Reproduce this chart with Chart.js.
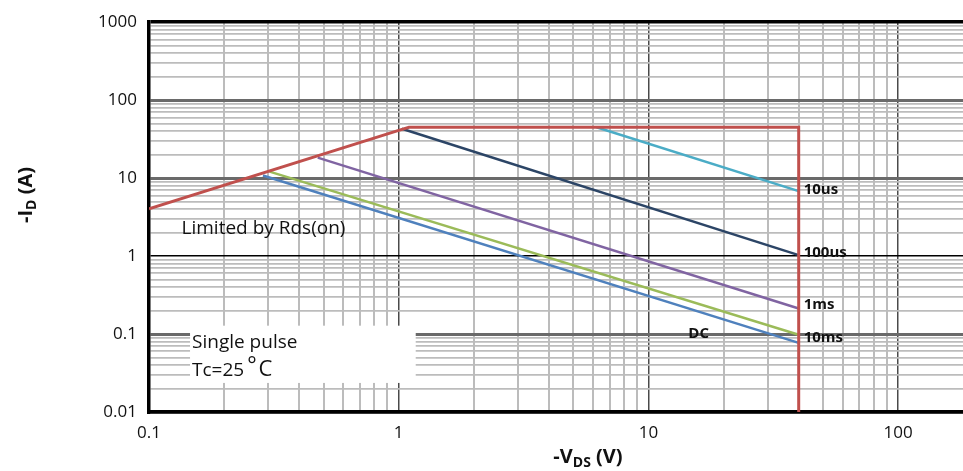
<!DOCTYPE html>
<html>
<head>
<meta charset="utf-8">
<script src="https://cdn.jsdelivr.net/npm/chart.js@4.4.1/dist/chart.umd.min.js"></script>
<style>
  html, body { margin: 0; padding: 0; background: #fff; }
  #wrap { width: 963px; height: 471px; position: relative; }
</style>
</head>
<body>
<div id="wrap"><canvas id="c" width="963" height="471"></canvas></div>
<script>
// ---- axis ticks ----
const xDecades = [0.1, 1, 10, 100];
const xDecadeLabels = ['0.1', '1', '10', '100'];
const yDecades = [0.01, 0.1, 1, 10, 100, 1000];
const yDecadeLabels = ['0.01', '0.1', '1', '10', '100', '1000'];
const xMin = 0.1, xMax = 182;
const yMin = 0.01, yMax = 1000;

// ---- series (-VDS in V, -ID in A) ----
const rdsLimitV = [0.1, 1.0, 1.1, 40, 40];
const rdsLimitI = [4.04, 41, 45, 45, 0.01];
const us10V = [6.2, 40];
const us10I = [45, 6.8];
const us100V = [1.03, 40];
const us100I = [43, 1.03];
const ms1V = [0.474, 40];
const ms1I = [18.3, 0.213];
const ms10V = [0.304, 40];
const ms10I = [12.1, 0.098];
const dcV = [0.286, 40];
const dcI = [10.8, 0.077];

// ---- end labels ----
const endLabels = ['10us', '100us', '1ms', '10ms'];
const endLabelI = [7.2, 1.09, 0.24, 0.089];
const endLabelV = 40;
const dcLabel = 'DC';
const dcLabelPos = [15.9, 0.1];
const rdsText = 'Limited by Rds(on)';
const rdsTextPos = [0.135, 1.9];
const noteLines = ['Single pulse', 'Tc=25', '°', 'C'];
const noteBox = [0.146, 1.17, 0.128, 0.0236]; // V left, V right, I top, I bottom

function pts(v, i) { return v.map((x, k) => ({ x: x, y: i[k] })); }
function logTicks(decades, max) {
  const out = [];
  decades.forEach(d => { for (let m = 1; m <= 9; m++) { const v = +(d * m).toPrecision(6); if (v <= max + 1e-9) out.push(v); } });
  return out;
}
function isDecade(v) { const l = Math.log10(v); return Math.abs(l - Math.round(l)) < 1e-6; }
function decadeLabel(v, decs, labs) {
  for (let k = 0; k < decs.length; k++) if (Math.abs(decs[k] - v) / decs[k] < 1e-6) return labs[k];
  return '';
}

const FONT = "'Open Sans', 'Liberation Sans', sans-serif";

const overlay = {
  id: 'overlay',
  beforeDatasetsDraw(chart) {
    const ctx = chart.ctx, xs = chart.scales.x, ys = chart.scales.y;
    const l = xs.getPixelForValue(noteBox[0]), r = xs.getPixelForValue(noteBox[1]);
    const t = ys.getPixelForValue(noteBox[2]), b = ys.getPixelForValue(noteBox[3]);
    ctx.save();
    ctx.fillStyle = '#fff';
    ctx.fillRect(l, t, r - l, b - t);
    ctx.fillStyle = '#111';
    ctx.textBaseline = 'alphabetic';
    ctx.textAlign = 'left';
    ctx.font = '19px ' + FONT;
    ctx.fillText(noteLines[0], l + 2, t + 22);
    ctx.fillText(noteLines[1], l + 2, t + 50);
    const w = ctx.measureText(noteLines[1]).width;
    ctx.font = '22px ' + FONT;
    ctx.fillText(noteLines[2], l + 2 + w + 3, t + 46);
    const w2 = ctx.measureText(noteLines[2]).width;
    ctx.fillText(noteLines[3], l + 2 + w + 3 + w2 + 2, t + 50);
    ctx.restore();
  },
  afterDraw(chart) {
    const ctx = chart.ctx, xs = chart.scales.x, ys = chart.scales.y;
    ctx.save();
    ctx.fillStyle = '#111';
    ctx.textAlign = 'left';
    ctx.textBaseline = 'alphabetic';
    ctx.font = '19px ' + FONT;
    ctx.fillText(rdsText, xs.getPixelForValue(rdsTextPos[0]), ys.getPixelForValue(rdsTextPos[1]));
    ctx.textBaseline = 'middle';
    ctx.font = 'bold 15px ' + FONT;
    const xe = xs.getPixelForValue(endLabelV) + 5;
    endLabels.forEach((s, k) => ctx.fillText(s, xe, ys.getPixelForValue(endLabelI[k])));
    ctx.textAlign = 'center';
    ctx.fillText(dcLabel, xs.getPixelForValue(dcLabelPos[0]), ys.getPixelForValue(dcLabelPos[1]));
    function subTitle(parts, cx, cy, rot) {
      ctx.save();
      ctx.translate(cx, cy);
      if (rot) ctx.rotate(-Math.PI / 2);
      ctx.textAlign = 'left';
      ctx.textBaseline = 'alphabetic';
      let total = 0;
      parts.forEach(p => { ctx.font = p[1]; total += ctx.measureText(p[0]).width; });
      let x = -total / 2;
      parts.forEach(p => { ctx.font = p[1]; ctx.fillText(p[0], x, 7 + p[2]); x += ctx.measureText(p[0]).width; });
      ctx.restore();
    }
    const big = 'bold 20px ' + FONT, small = 'bold 14px ' + FONT;
    subTitle([['-I', big, 0], ['D', small, 4], [' (A)', big, 0]], 25, 195, true);
    subTitle([['-V', big, 0], ['DS', small, 4], [' (V)', big, 0]], 588, 456, false);
    ctx.restore();
  }
};

const lineDs = (label, data, color, w) => ({
  label, data, borderColor: color, backgroundColor: color, borderWidth: w,
  showLine: true, pointRadius: 0, tension: 0, fill: false
});

new Chart(document.getElementById('c'), {
  type: 'scatter',
  data: {
    datasets: [
      lineDs('Rds limit', pts(rdsLimitV, rdsLimitI), '#c0504d', 3),
      lineDs('10us', pts(us10V, us10I), '#4bacc6', 2.5),
      lineDs('100us', pts(us100V, us100I), '#2c4566', 2.5),
      lineDs('1ms', pts(ms1V, ms1I), '#8064a2', 2.5),
      lineDs('10ms', pts(ms10V, ms10I), '#9bbb59', 2.5),
      lineDs('DC', pts(dcV, dcI), '#4f81bd', 2.5)
    ]
  },
  options: {
    responsive: false,
    animation: false,
    layout: { padding: { left: 0, right: 0, top: 16, bottom: 0 } },
    plugins: { legend: { display: false }, tooltip: { enabled: false } },
    scales: {
      x: {
        type: 'logarithmic', min: xMin, max: xMax,
        afterBuildTicks: s => { s.ticks = logTicks(xDecades, xMax).map(v => ({ value: v })); },
        afterFit: s => { s.height = 59; },
        ticks: {
          autoSkip: false, maxRotation: 0, padding: 11, color: '#111',
          font: { family: FONT, size: 17 },
          callback: v => decadeLabel(v, xDecades, xDecadeLabels)
        },
        grid: {
          drawTicks: false,
          color: c => (c.tick && isDecade(c.tick.value)) ? '#4a4a4a' : '#bcbcbc',
          lineWidth: c => (c.tick && isDecade(c.tick.value)) ? 1.5 : 2
        },
        border: { display: true, color: '#000', width: 3.5 }
      },
      y: {
        type: 'logarithmic', min: yMin, max: yMax,
        afterBuildTicks: s => { s.ticks = logTicks(yDecades, yMax).map(v => ({ value: v })); },
        afterFit: s => { s.width = 149; },
        ticks: {
          autoSkip: false, padding: 12, color: '#111',
          font: { family: FONT, size: 17 },
          callback: v => decadeLabel(v, yDecades, yDecadeLabels)
        },
        grid: {
          drawTicks: false,
          color: c => {
            if (!c.tick) return '#bcbcbc';
            const v = c.tick.value;
            if (!isDecade(v)) return '#bcbcbc';
            if (Math.abs(v - 1) < 1e-9 || Math.abs(v - 1000) < 1e-6) return '#000';
            return '#6a6a6a';
          },
          lineWidth: c => {
            if (!c.tick) return 1.5;
            const v = c.tick.value;
            if (!isDecade(v)) return 1.8;
            if (Math.abs(v - 1) < 1e-9) return 1.5;
            if (Math.abs(v - 1000) < 1e-6) return 3.5;
            return 3;
          }
        },
        border: { display: true, color: '#000', width: 3.5 }
      }
    }
  },
  plugins: [overlay]
});
</script>
</body>
</html>
